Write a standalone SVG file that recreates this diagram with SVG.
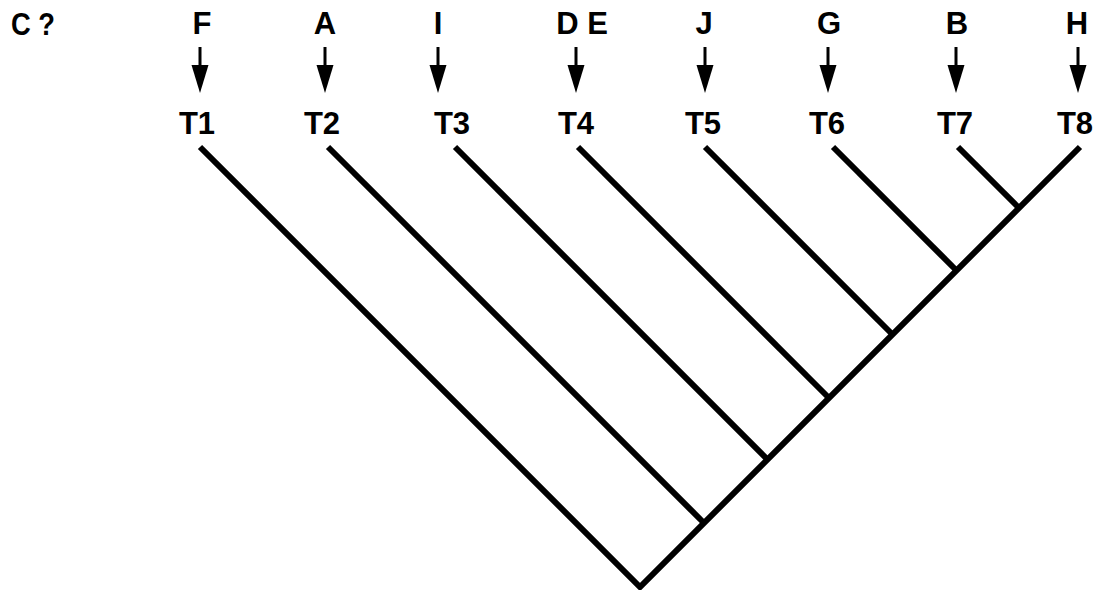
<svg xmlns="http://www.w3.org/2000/svg" width="1100" height="590" viewBox="0 0 1100 590">
<defs>
<style>
.lbl{font-family:"Liberation Sans",Arial,sans-serif;font-weight:bold;font-size:31px;fill:#000;text-anchor:middle}
.br{stroke:#000;stroke-width:6;fill:none;stroke-linecap:butt;stroke-linejoin:miter}
.sh{stroke:#000;stroke-width:3}
.hd{fill:#000}
</style>
</defs>
<rect width="1100" height="590" fill="#fff"/>
<text class="lbl" x="11" y="35" style="text-anchor:start" textLength="44" lengthAdjust="spacingAndGlyphs">C ?</text>
<g id="nF"><text class="lbl" x="202" y="34">F</text><line class="sh" x1="200" y1="47" x2="200" y2="68"/><polygon class="hd" points="191.5,65 208.5,65 200,93"/><text class="lbl" x="197" y="134">T1</text></g>
<g id="nA"><text class="lbl" x="325" y="34">A</text><line class="sh" x1="325" y1="47" x2="325" y2="68"/><polygon class="hd" points="316.5,65 333.5,65 325,93"/><text class="lbl" x="322" y="134">T2</text></g>
<g id="nI"><text class="lbl" x="438" y="34">I</text><line class="sh" x1="438" y1="47" x2="438" y2="68"/><polygon class="hd" points="429.5,65 446.5,65 438,93"/><text class="lbl" x="452" y="134">T3</text></g>
<g id="nDE"><text class="lbl" x="582" y="34">D E</text><line class="sh" x1="576" y1="47" x2="576" y2="68"/><polygon class="hd" points="567.5,65 584.5,65 576,93"/><text class="lbl" x="576" y="134">T4</text></g>
<g id="nJ"><text class="lbl" x="704" y="34">J</text><line class="sh" x1="705" y1="47" x2="705" y2="68"/><polygon class="hd" points="696.5,65 713.5,65 705,93"/><text class="lbl" x="703" y="134">T5</text></g>
<g id="nG"><text class="lbl" x="829" y="34">G</text><line class="sh" x1="828" y1="47" x2="828" y2="68"/><polygon class="hd" points="819.5,65 836.5,65 828,93"/><text class="lbl" x="827" y="134">T6</text></g>
<g id="nB"><text class="lbl" x="957" y="34">B</text><line class="sh" x1="956" y1="47" x2="956" y2="68"/><polygon class="hd" points="947.5,65 964.5,65 956,93"/><text class="lbl" x="955" y="134">T7</text></g>
<g id="nH"><text class="lbl" x="1077" y="34">H</text><line class="sh" x1="1078" y1="47" x2="1078" y2="68"/><polygon class="hd" points="1069.5,65 1086.5,65 1078,93"/><text class="lbl" x="1075" y="134">T8</text></g>
<g id="connectors">
<polyline class="br" points="200,147 640,587 1080,147"/>
<line class="br" x1="328" y1="147" x2="704" y2="523"/>
<line class="br" x1="455" y1="147" x2="767.5" y2="459.5"/>
<line class="br" x1="578" y1="147" x2="829" y2="398"/>
<line class="br" x1="705" y1="147" x2="892.5" y2="334.5"/>
<line class="br" x1="833" y1="147" x2="956.5" y2="270.5"/>
<line class="br" x1="958" y1="147" x2="1019" y2="208"/>
</g>
</svg>
